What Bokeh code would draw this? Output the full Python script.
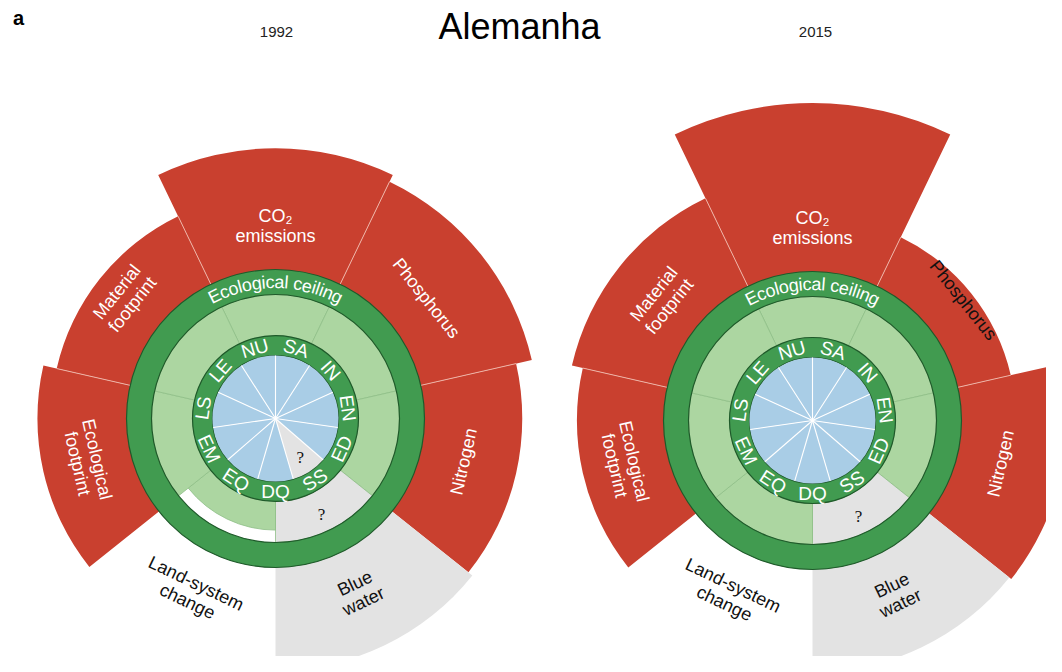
import math
from bokeh.plotting import figure
from bokeh.models import Range1d, ColumnDataSource
from bokeh.core.properties import value
from bokeh.embed import file_html
from bokeh.resources import INLINE

# ---------------- data ----------------
PANEL = "a"
COUNTRY = "Alemanha"
YEARS = ["1992", "2015"]

SOCIAL_LABELS = ["NU", "SA", "IN", "EN", "ED", "SS", "DQ", "EQ", "EM", "LS", "LE"]
# share of social threshold achieved (1 = threshold met, None = no data)
SOCIAL_1992 = [1.0, 1.0, 1.0, 1.0, 1.0, None, 1.0, 1.0, 1.0, 1.0, 1.0]
SOCIAL_2015 = [1.0, 1.0, 1.0, 1.0, 1.0, 1.0, 1.0, 1.0, 1.0, 1.0, 1.0]

ECO_LABELS = ["CO₂\nemissions", "Phosphorus", "Nitrogen", "Blue\nwater",
              "Land-system\nchange", "Ecological\nfootprint", "Material\nfootprint"]
# radial position relative to the ecological ceiling (1 = ceiling)
ECO_1992 = [2.18, 2.12, 1.99, 2.03, 0.90, 1.92, 1.81]
ECO_2015 = [2.56, 1.64, 2.05, 2.03, 1.00, 1.90, 1.99]
# whether the boundary status is known (False -> grey with "?")
ECO_KNOWN_1992 = [True, True, True, False, True, True, True]
ECO_KNOWN_2015 = [True, True, True, False, True, True, True]

# ---------------- styling / geometry ----------------
S = 124.0                     # px per unit (ceiling radius)
W, H = 1046, 656
R_BLUE = 63 / S
R_SOC = 83 / S
R_CEIL = 1.0
R_RING = 149 / S

RED = "#c9402f"
DARK_GREEN = "#419b50"
GREEN_EDGE = "#1f5a2a"
LIGHT_GREEN = "#acd6a1"
BLUE = "#a9cde6"
GREY = "#e3e3e3"
FONT = "Liberation Sans"


def to_data(X, Y):
    return X / S, (H - Y) / S


CENTERS = [to_data(275, 418), to_data(812, 420)]

p = figure(width=W, height=H, output_backend="svg", toolbar_location=None,
           x_range=Range1d(0, W / S), y_range=Range1d(0, H / S),
           x_axis_location=None, y_axis_location=None, min_border=0,
           background_fill_color="white", border_fill_color="white")
p.outline_line_color = None
p.xgrid.visible = False
p.ygrid.visible = False

n_eco = len(ECO_LABELS)
n_soc = len(SOCIAL_LABELS)
eco_step = 360.0 / n_eco
soc_step = 360.0 / n_soc
eco_center = [90 - j * eco_step for j in range(n_eco)]
soc_center = [90 + soc_step / 2 - i * soc_step for i in range(n_soc)]


def rot_for(theta):
    t = (theta + 180) % 360 - 180
    if math.sin(math.radians(t)) > -0.05:
        return math.radians(t - 90)
    return math.radians(t + 90)


def polar(cx, cy, r, deg):
    return cx + r * math.cos(math.radians(deg)), cy + r * math.sin(math.radians(deg))


outer = dict(x=[], y=[], ir=[], orr=[], sa=[], ea=[], c=[])
inner = dict(x=[], y=[], ir=[], orr=[], sa=[], ea=[], c=[])
blue = dict(x=[], y=[], ir=[], orr=[], sa=[], ea=[], c=[])
seps = dict(x0=[], y0=[], x1=[], y1=[])
bl = dict(x0=[], y0=[], x1=[], y1=[])
lab_w = dict(x=[], y=[], t=[], a=[])
lab_k = dict(x=[], y=[], t=[], a=[])
soc_t = dict(x=[], y=[], t=[], a=[])
arc_t = dict(x=[], y=[], t=[], a=[])
qm = dict(x=[], y=[], t=[])


def add(d, **kw):
    for k, v in kw.items():
        d[k].append(v)


CW = {'E': 0.667, 'c': 0.5, 'o': 0.556, 'l': 0.222, 'g': 0.556, 'i': 0.222,
      'a': 0.556, ' ': 0.278, 'e': 0.556, 'n': 0.556}

for (cx, cy), eco, known, soc in zip(CENTERS, [ECO_1992, ECO_2015],
                                      [ECO_KNOWN_1992, ECO_KNOWN_2015],
                                      [SOCIAL_1992, SOCIAL_2015]):
    for j, (v, kn) in enumerate(zip(eco, known)):
        c = eco_center[j]
        sa = math.radians(c - eco_step / 2)
        ea = math.radians(c + eco_step / 2)
        if v > R_RING:
            add(outer, x=cx, y=cy, ir=R_CEIL, orr=v, sa=sa, ea=ea, c=RED if kn else GREY)
        add(inner, x=cx, y=cy, ir=R_SOC, orr=min(v, R_CEIL) if kn else R_CEIL,
            sa=sa, ea=ea, c=LIGHT_GREEN if kn else GREY)
        # labels
        lx, ly = polar(cx, cy, 193 / S, c)
        white = kn and v * S > 215
        add(lab_w if white else lab_k, x=lx, y=ly, t=ECO_LABELS[j], a=rot_for(c))
        if not kn:
            qx, qy = polar(cx, cy, 106 / S, c)
            add(qm, x=qx, y=qy, t="?")
        # separators between adjacent red wedges
        k = (j + 1) % n_eco
        if kn and known[k] and v > R_RING and eco[k] > R_RING:
            b = c - eco_step / 2
            x0, y0 = polar(cx, cy, R_RING, b)
            x1, y1 = polar(cx, cy, min(v, eco[k]), b)
            add(seps, x0=x0, y0=y0, x1=x1, y1=y1)
    for i, sv in enumerate(soc):
        c = soc_center[i]
        sa = math.radians(c - soc_step / 2)
        ea = math.radians(c + soc_step / 2)
        if sv is None:
            add(blue, x=cx, y=cy, ir=0, orr=R_BLUE, sa=sa, ea=ea, c=GREY)
            qx, qy = polar(cx, cy, 46 / S, c)
            add(qm, x=qx, y=qy, t="?")
        else:
            add(blue, x=cx, y=cy, ir=0, orr=sv * R_BLUE, sa=sa, ea=ea, c=BLUE)
        b = c + soc_step / 2
        x1, y1 = polar(cx, cy, R_BLUE, b)
        add(bl, x0=cx, y0=cy, x1=x1, y1=y1)
        tx, ty = polar(cx, cy, 73 / S, c)
        add(soc_t, x=tx, y=ty, t=SOCIAL_LABELS[i], a=rot_for(c))
    # curved "Ecological ceiling"
    word = "Ecological ceiling"
    fs = 18.0
    r_px = 136.5
    total = sum(CW[ch] for ch in word) * fs
    cum = 0.0
    for ch in word:
        w = CW[ch] * fs
        mid = cum + w / 2
        ang = 90 + math.degrees((total / 2 - mid) / r_px)
        tx, ty = polar(cx, cy, r_px / S, ang)
        if ch != " ":
            add(arc_t, x=tx, y=ty, t=ch, a=math.radians(ang - 90))
        cum += w

p.annular_wedge(x="x", y="y", inner_radius="ir", outer_radius="orr", start_angle="sa",
                end_angle="ea", fill_color="c", line_color=None, source=ColumnDataSource(outer))
p.segment(x0="x0", y0="y0", x1="x1", y1="y1", line_color="#eeb3a6", line_width=1,
          source=ColumnDataSource(seps))
p.annular_wedge(x="x", y="y", inner_radius="ir", outer_radius="orr", start_angle="sa",
                end_angle="ea", fill_color="c", line_color="#8fbf88", line_width=0.8,
                source=ColumnDataSource(inner))
for cx, cy in CENTERS:
    p.annulus(x=cx, y=cy, inner_radius=R_CEIL, outer_radius=R_RING, fill_color=DARK_GREEN,
              line_color=GREEN_EDGE, line_width=1.2)
    p.annulus(x=cx, y=cy, inner_radius=R_BLUE, outer_radius=R_SOC, fill_color=DARK_GREEN,
              line_color=GREEN_EDGE, line_width=1.2)
p.annular_wedge(x="x", y="y", inner_radius="ir", outer_radius="orr", start_angle="sa",
                end_angle="ea", fill_color="c", line_color=None, source=ColumnDataSource(blue))
p.segment(x0="x0", y0="y0", x1="x1", y1="y1", line_color="white", line_width=1.1,
          source=ColumnDataSource(bl))

common = dict(text_font=value(FONT), text_align="center", text_baseline="middle")
p.text(x="x", y="y", text="t", angle="a", text_color="white", text_font_size="18px",
       text_line_height=1.0, source=ColumnDataSource(lab_w), **common)
p.text(x="x", y="y", text="t", angle="a", text_color="#111111", text_font_size="18px",
       text_line_height=1.0, source=ColumnDataSource(lab_k), **common)
p.text(x="x", y="y", text="t", angle="a", text_color="white", text_font_size="19px",
       source=ColumnDataSource(soc_t), **common)
p.text(x="x", y="y", text="t", angle="a", text_color="white", text_font_size="18px",
       source=ColumnDataSource(arc_t), **common)
p.text(x="x", y="y", text="t", text_color="#111111", text_font_size="17px",
       text_font=value("Liberation Serif"), text_align="center", text_baseline="middle",
       source=ColumnDataSource(qm))

# titles
tx, ty = to_data(519, 26)
p.text(x=[tx], y=[ty], text=[COUNTRY], text_font_size="36px", text_color="black", **common)
for (X, Y), yr in zip([(276, 31), (815, 31)], YEARS):
    tx, ty = to_data(X, Y)
    p.text(x=[tx], y=[ty], text=[yr], text_font_size="15px", text_color="#222222", **common)
tx, ty = to_data(18, 17)
p.text(x=[tx], y=[ty], text=[PANEL], text_font_size="20px", text_font_style="bold",
       text_color="black", **common)

open("out.html", "w").write(file_html(p, INLINE))
